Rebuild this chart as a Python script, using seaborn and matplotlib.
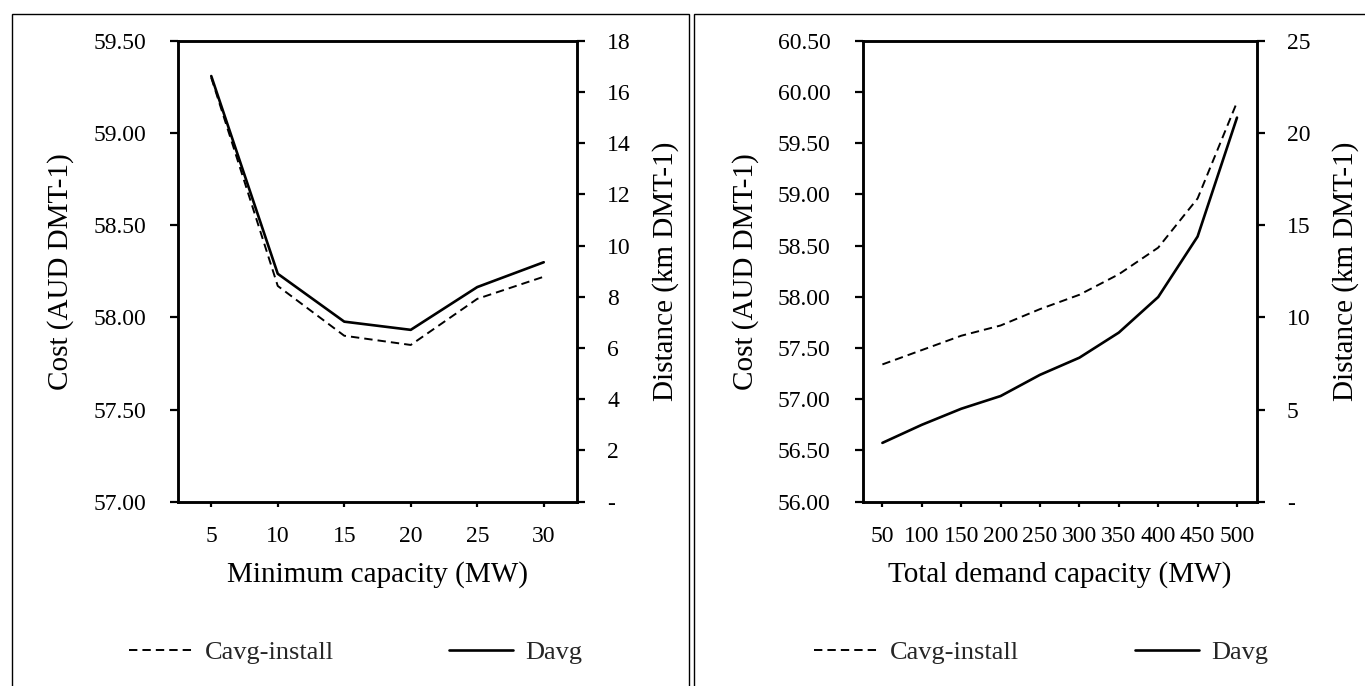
import matplotlib
matplotlib.use("Agg")
import matplotlib.pyplot as plt
from matplotlib.lines import Line2D
from matplotlib.patches import Rectangle
from matplotlib.ticker import FuncFormatter
import seaborn as sns
import pandas as pd
import numpy as np

# ---------------- data ----------------
min_capacity = [5, 10, 15, 20, 25, 30]
min_cost = [59.30, 58.17, 57.90, 57.85, 58.10, 58.22]
min_dist = [16.62, 8.90, 7.03, 6.71, 8.38, 9.35]

demand_capacity = [50, 100, 150, 200, 250, 300, 350, 400, 450, 500]
demand_cost = [57.34, 57.48, 57.62, 57.72, 57.88, 58.02, 58.22, 58.48, 58.96, 59.90]
demand_dist = [3.19, 4.17, 5.04, 5.73, 6.88, 7.81, 9.17, 11.10, 14.38, 20.83]

series_names = ["Cavg-install", "Davg"]
cost_label = "Cost (AUD DMT-1)"
dist_label = "Distance (km DMT-1)"
xlabels = ["Minimum capacity (MW)", "Total demand capacity (MW)"]

# ---------------- style ----------------
sns.set_style("white")
plt.rcParams["font.family"] = ["Liberation Serif", "DejaVu Serif"]
plt.rcParams["font.size"] = 17

W, H = 1365, 686
fig = plt.figure(figsize=(W / 100, H / 100), dpi=100)

FS = 17       # tick labels
FS_LAB = 21   # axis titles
FS_LEG = 19   # legend
LW_SOLID = 1.9
LW_DASH = 1.4
DASH = (0, (4.3, 2.6))


def px_axes(x0, x1, y0, y1):
    return fig.add_axes([x0 / W, 1 - y1 / H, (x1 - x0) / W, (y1 - y0) / H])


def dist_fmt(v, pos):
    return "-" if abs(v) < 1e-9 else f"{v:g}"


def build(ax, x, cost, dist, xlim, xticks, cost_lim, cost_step, dist_lim, dist_step, xlabel):
    df = pd.DataFrame({"x": x, "cost": cost, "dist": dist})
    sns.lineplot(data=df, x="x", y="cost", ax=ax, color="black", lw=LW_DASH,
                 linestyle=DASH, legend=False)
    ax2 = ax.twinx()
    sns.lineplot(data=df, x="x", y="dist", ax=ax2, color="black", lw=LW_SOLID,
                 legend=False)

    ax.set_xlim(*xlim)
    ax.set_xticks(xticks)
    ax.set_ylim(*cost_lim)
    ax.set_yticks(np.arange(cost_lim[0], cost_lim[1] + 1e-9, cost_step))
    ax.yaxis.set_major_formatter(FuncFormatter(lambda v, p: f"{v:.2f}"))
    ax2.set_ylim(*dist_lim)
    ax2.set_yticks(np.arange(dist_lim[0], dist_lim[1] + 1e-9, dist_step))
    ax2.yaxis.set_major_formatter(FuncFormatter(dist_fmt))

    for a in (ax, ax2):
        for s in a.spines.values():
            s.set_linewidth(1.8)
            s.set_color("black")
        a.grid(False)
    ax.tick_params(axis="y", which="major", direction="out", length=5.8, width=1.6,
                   pad=17.3, labelsize=FS, left=True, colors="black")
    ax.tick_params(axis="x", which="major", direction="out", length=3.6, width=1.6,
                   pad=14, labelsize=FS, bottom=True, colors="black")
    ax2.tick_params(axis="y", which="major", direction="out", length=5.8, width=1.6,
                    pad=15.8, labelsize=FS, right=True, colors="black")

    ax.set_xlabel(xlabel, fontsize=FS_LAB, color="black")
    ax.set_ylabel(cost_label, fontsize=FS_LAB, color="black")
    ax2.set_ylabel(dist_label, fontsize=FS_LAB, color="black")
    return ax2


XLAB_Y = (501.7 - 560.6) / 461

# left panel
axL = px_axes(178, 577, 40.7, 501.7)
axL2 = build(axL, min_capacity, min_cost, min_dist, (2.5, 32.5), min_capacity,
             (57.0, 59.5), 0.5, (0, 18), 2, xlabels[0])
wL = 577 - 178
axL.yaxis.set_label_coords((74.5 - 178) / wL, 0.5)
axL2.yaxis.set_label_coords((652 - 178) / wL, 0.5)
axL.xaxis.set_label_coords(0.5, XLAB_Y)

# right panel
axR = px_axes(862.7, 1256.7, 40.7, 501.7)
axR2 = build(axR, demand_capacity, demand_cost, demand_dist, (25, 525), demand_capacity,
             (56.0, 60.5), 0.5, (0, 25), 5, xlabels[1])
wR = 1256.7 - 862.7
axR.yaxis.set_label_coords((862.7 - 103.5 - 862.7) / wR, 0.5)
axR2.yaxis.set_label_coords((1256.7 + 75 - 862.7) / wR, 0.5)
axR.xaxis.set_label_coords(0.5, XLAB_Y)

# legends (placed per panel)
h_dash = Line2D([], [], color="black", lw=LW_DASH, linestyle=DASH)
h_solid = Line2D([], [], color="black", lw=LW_SOLID)
leg_y = 1 - 652 / H
for hx, handle, name in [(129, h_dash, series_names[0]), (449, h_solid, series_names[1]),
                         (814, h_dash, series_names[0]), (1135, h_solid, series_names[1])]:
    fig.legend(handles=[handle], labels=[name], loc="center left",
               bbox_to_anchor=(hx / W, leg_y), frameon=False, fontsize=FS_LEG,
               handlelength=64 / (FS_LEG * 1.389), handletextpad=12 / (FS_LEG * 1.389),
               borderpad=0, borderaxespad=0)

# outer panel frames
for x0, x1 in [(11.7, 689), (694, 1380)]:
    fig.add_artist(Rectangle((x0 / W, 1 - 720 / H), (x1 - x0) / W, (720 - 14) / H,
                             transform=fig.transFigure, fill=False, lw=1.0,
                             edgecolor="black"))

fig.savefig("out.png", dpi=100, facecolor="white")
